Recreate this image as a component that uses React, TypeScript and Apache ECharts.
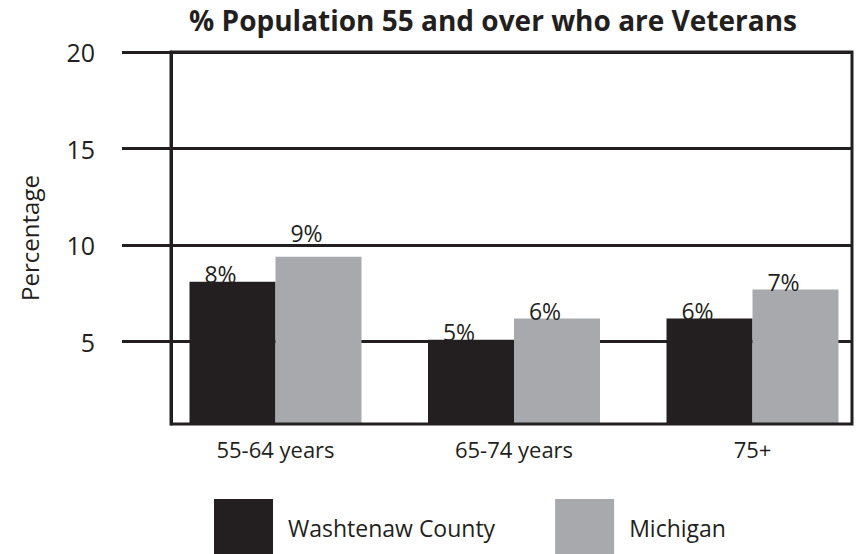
import React, { useEffect, useRef } from "react";
import * as echarts from "echarts";

const categories = ["55-64 years", "65-74 years", "75+"];
const washtenaw = [8.1, 5.1, 6.2];
const michigan = [9.4, 6.2, 7.7];
const washtenawLabels = ["8%", "5%", "6%"];
const michiganLabels = ["9%", "6%", "7%"];
const yTicks = [5, 10, 15, 20];
const yMin = 0.73;
const yMax = 20;
const titleText = "% Population 55 and over who are Veterans";
const yName = "Percentage";
const seriesNames = ["Washtenaw County", "Michigan"];

const INK = "#231f20";
const GRAY = "#a7a9ac";
const FONT = "Open Sans";

export default function App() {
  const ref = useRef<HTMLDivElement>(null);
  useEffect(() => {
    if (!ref.current) return;
    const chart = echarts.init(ref.current, null, { renderer: "svg" });
    const barLabel = (labels: string[]) => ({
      show: true,
      position: "top",
      distance: -4,
      offset: [-12, 0],
      fontFamily: FONT,
      fontSize: 23,
      color: INK,
      formatter: (p: any) => labels[p.dataIndex],
    });
    chart.setOption({
      animation: false,
      textStyle: { fontFamily: FONT, color: INK },
      graphic: [
        {
          type: "text",
          x: 493,
          y: 20,
          style: {
            text: titleText,
            fontFamily: FONT,
            fontWeight: "bold",
            fontSize: 28,
            fill: INK,
            textAlign: "center",
            textVerticalAlign: "middle",
          },
        },
      ],
      legend: {
        left: 214,
        top: 499,
        padding: 0,
        itemWidth: 59,
        itemHeight: 58,
        itemGap: 60,
        icon: "rect",
        data: seriesNames,
        textStyle: { fontFamily: FONT, fontSize: 23, color: INK, padding: [0, 0, 0, 10] },
      },
      grid: [
        {
          left: 171,
          right: 4,
          top: 52,
          bottom: 130,
          show: true,
          borderWidth: 3,
          borderColor: INK,
          z: 3,
        },
        { left: 275.5, width: 477, top: 52, bottom: 130, show: false },
      ],
      xAxis: [
        { type: "value", gridIndex: 0, show: false, min: 0, max: 1 },
        {
          type: "category",
          gridIndex: 1,
          data: categories,
          boundaryGap: false,
          axisLine: { show: false },
          axisTick: { show: false },
          splitLine: { show: false },
          axisLabel: { fontFamily: FONT, fontSize: 22, color: INK, margin: 14 },
        },
      ],
      yAxis: [
        {
          type: "value",
          gridIndex: 0,
          min: yMin,
          max: yMax,
          name: yName,
          nameLocation: "middle",
          nameGap: 130,
          nameRotate: 90,
          nameTextStyle: { fontFamily: FONT, fontSize: 24, color: INK },
          axisLine: { show: true, lineStyle: { color: INK, width: 3 } },
          axisTick: {
            show: true,
            customValues: yTicks,
            length: 49,
            inside: false,
            lineStyle: { color: INK, width: 3 },
          },
          axisLabel: {
            customValues: yTicks,
            fontFamily: FONT,
            fontSize: 25,
            color: INK,
            margin: 76,
          },
          splitLine: { show: true, lineStyle: { color: INK, width: 3 } },
        },
        {
          type: "value",
          gridIndex: 1,
          min: yMin,
          max: yMax,
          startValue: yMin,
          show: false,
          splitLine: { show: false },
        },
      ],
      series: [
        {
          name: seriesNames[0],
          type: "bar",
          xAxisIndex: 1,
          yAxisIndex: 1,
          data: washtenaw,
          barWidth: 86,
          barGap: "0%",
          clip: false,
          itemStyle: { color: INK },
          label: barLabel(washtenawLabels),
        },
        {
          name: seriesNames[1],
          type: "bar",
          xAxisIndex: 1,
          yAxisIndex: 1,
          data: michigan.map((v, i) =>
            i === 0 ? { value: v, label: { distance: 12 } } : v
          ),
          barWidth: 86,
          barGap: "0%",
          clip: false,
          itemStyle: { color: GRAY },
          label: barLabel(michiganLabels),
        },
      ],
    });
    return () => chart.dispose();
  }, []);
  return (
    <div
      ref={ref}
      style={{ position: "fixed", left: 0, top: 0, width: 856, height: 554, background: "#fff" }}
    />
  );
}
